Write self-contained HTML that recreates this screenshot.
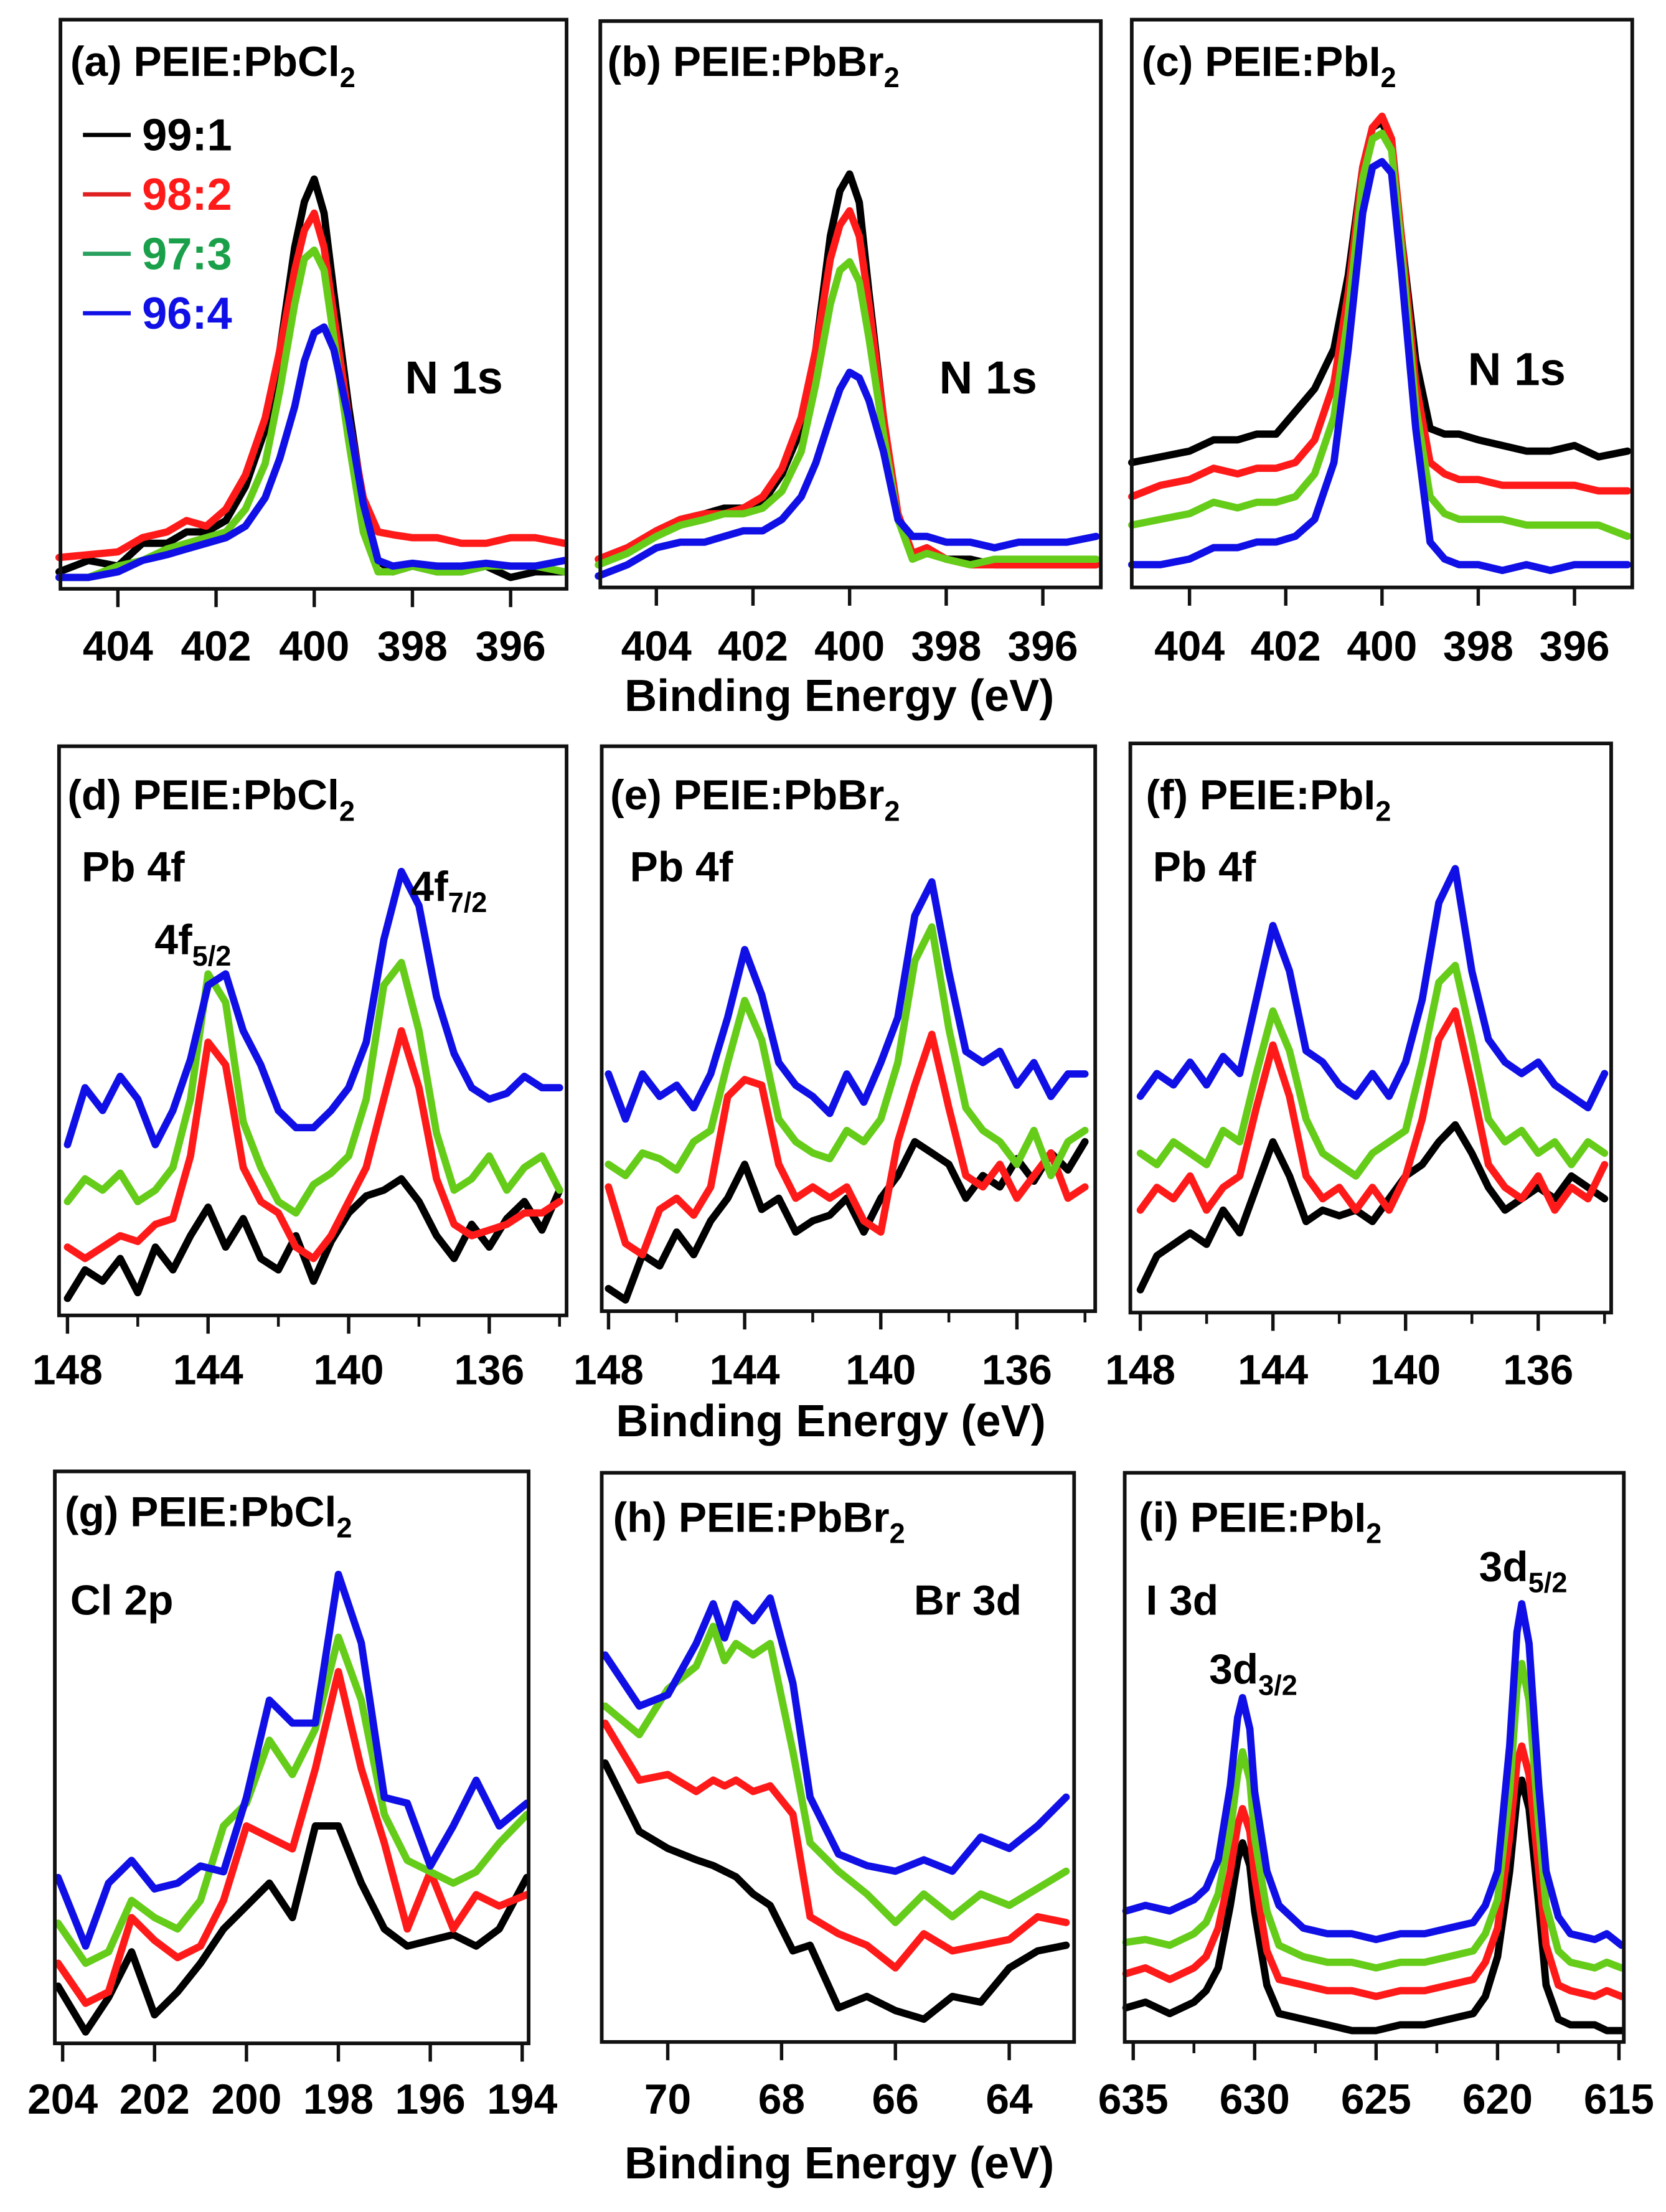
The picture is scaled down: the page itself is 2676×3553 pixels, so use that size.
<!DOCTYPE html>
<html><head><meta charset="utf-8"><title>XPS spectra of PEIE:PbX2</title>
<style>
html,body{margin:0;padding:0;background:#fff;}
svg{display:block;}
text{font-family:"Liberation Sans",Arial,sans-serif;font-weight:bold;fill:#000;}
</style></head>
<body>
<svg id="fig" xmlns="http://www.w3.org/2000/svg" width="2676" height="3553" viewBox="0 0 1185 1574" preserveAspectRatio="none"></svg>
<script>
// ---------- data ----------
// Row 1: N 1s
const eN = [405.2,404.6,404,403.5,403,402.6,402.2,401.8,401.4,401,400.7,400.4,400.2,400,399.8,399.6,399.3,399,398.7,398.4,398,397.5,397,396.5,396,395.5,394.9];
const aBlack = [0.03,0.05,0.04,0.08,0.08,0.10,0.10,0.12,0.18,0.28,0.42,0.60,0.68,0.72,0.66,0.52,0.32,0.15,0.05,0.03,0.04,0.03,0.03,0.04,0.02,0.03,0.03];
const aRed   = [0.055,0.06,0.065,0.09,0.10,0.12,0.11,0.14,0.20,0.30,0.42,0.56,0.63,0.66,0.60,0.48,0.30,0.16,0.10,0.095,0.09,0.09,0.08,0.08,0.09,0.09,0.08];
const aGreen = [0.02,0.02,0.04,0.05,0.07,0.08,0.09,0.10,0.14,0.22,0.35,0.50,0.58,0.595,0.56,0.44,0.26,0.10,0.03,0.03,0.04,0.03,0.03,0.04,0.04,0.04,0.03];
const aBlue  = [0.02,0.02,0.03,0.05,0.06,0.07,0.08,0.09,0.11,0.16,0.23,0.32,0.40,0.45,0.46,0.42,0.30,0.15,0.05,0.04,0.045,0.04,0.04,0.045,0.04,0.04,0.05];
const bBlack = [0.05,0.07,0.10,0.12,0.13,0.14,0.14,0.15,0.20,0.28,0.42,0.62,0.70,0.73,0.68,0.52,0.30,0.12,0.06,0.07,0.05,0.05,0.04,0.04,0.04,0.04,0.04];
const bRed   = [0.05,0.07,0.10,0.12,0.13,0.13,0.14,0.16,0.21,0.30,0.42,0.58,0.64,0.665,0.62,0.50,0.30,0.13,0.06,0.07,0.05,0.04,0.04,0.04,0.04,0.04,0.04];
const bGreen = [0.04,0.06,0.09,0.11,0.12,0.13,0.13,0.14,0.17,0.24,0.36,0.50,0.56,0.575,0.54,0.44,0.27,0.12,0.05,0.06,0.05,0.04,0.05,0.05,0.05,0.05,0.05];
const bBlue  = [0.02,0.04,0.07,0.08,0.08,0.09,0.10,0.10,0.12,0.16,0.22,0.30,0.35,0.38,0.37,0.33,0.24,0.12,0.09,0.09,0.08,0.08,0.07,0.08,0.08,0.08,0.09];
const cBlack = [0.22,0.23,0.24,0.26,0.26,0.27,0.27,0.31,0.35,0.42,0.55,0.74,0.81,0.82,0.78,0.62,0.40,0.28,0.27,0.27,0.26,0.25,0.24,0.24,0.25,0.23,0.24];
const cRed   = [0.16,0.18,0.19,0.21,0.20,0.21,0.21,0.22,0.26,0.36,0.52,0.74,0.81,0.83,0.79,0.62,0.36,0.22,0.20,0.19,0.19,0.18,0.18,0.18,0.18,0.17,0.17];
const cGreen = [0.11,0.12,0.13,0.15,0.14,0.15,0.15,0.16,0.20,0.30,0.48,0.72,0.79,0.80,0.77,0.60,0.32,0.16,0.13,0.12,0.12,0.12,0.11,0.11,0.11,0.11,0.09];
const cBlue  = [0.04,0.04,0.05,0.07,0.07,0.08,0.08,0.09,0.12,0.22,0.42,0.66,0.74,0.75,0.73,0.56,0.28,0.08,0.05,0.04,0.04,0.03,0.04,0.03,0.04,0.04,0.04];
// Row 2: Pb 4f
const ePb = [148,147.5,147,146.5,146,145.5,145,144.5,144,143.5,143,142.5,142,141.5,141,140.5,140,139.5,139,138.5,138,137.5,137,136.5,136,135.5,135,134.5,134];
const dBlue  = [0.30,0.40,0.36,0.42,0.38,0.30,0.36,0.45,0.58,0.60,0.50,0.44,0.36,0.33,0.33,0.36,0.40,0.48,0.66,0.78,0.72,0.56,0.46,0.40,0.38,0.39,0.42,0.40,0.40];
const dGreen = [0.20,0.24,0.22,0.25,0.20,0.22,0.26,0.38,0.60,0.55,0.34,0.26,0.20,0.18,0.23,0.25,0.28,0.38,0.58,0.62,0.50,0.32,0.22,0.24,0.28,0.22,0.26,0.28,0.22];
const dRed   = [0.12,0.10,0.12,0.14,0.13,0.16,0.17,0.28,0.48,0.44,0.26,0.20,0.18,0.12,0.10,0.14,0.20,0.26,0.38,0.50,0.40,0.24,0.16,0.14,0.15,0.16,0.18,0.18,0.20];
const dBlack = [0.03,0.08,0.06,0.10,0.04,0.12,0.08,0.14,0.19,0.12,0.17,0.10,0.08,0.14,0.06,0.13,0.18,0.21,0.22,0.24,0.20,0.14,0.10,0.16,0.12,0.17,0.20,0.15,0.22];
const eBlue  = [0.42,0.34,0.42,0.38,0.40,0.36,0.42,0.52,0.64,0.56,0.44,0.40,0.38,0.35,0.42,0.37,0.44,0.52,0.70,0.76,0.60,0.46,0.44,0.46,0.40,0.44,0.38,0.42,0.42];
const eGreen = [0.26,0.24,0.28,0.27,0.25,0.30,0.32,0.44,0.55,0.48,0.34,0.30,0.28,0.27,0.32,0.30,0.34,0.44,0.62,0.68,0.50,0.36,0.32,0.30,0.26,0.32,0.24,0.30,0.32];
const eRed   = [0.22,0.12,0.10,0.18,0.20,0.17,0.22,0.38,0.41,0.40,0.26,0.20,0.22,0.20,0.22,0.16,0.14,0.30,0.40,0.49,0.36,0.24,0.22,0.26,0.20,0.24,0.28,0.20,0.22];
const eBlack = [0.04,0.02,0.10,0.08,0.14,0.10,0.16,0.20,0.26,0.18,0.20,0.14,0.16,0.17,0.20,0.14,0.20,0.24,0.30,0.28,0.26,0.20,0.24,0.22,0.27,0.23,0.28,0.25,0.30];
const fBlue  = [0.38,0.42,0.40,0.44,0.40,0.45,0.42,0.55,0.68,0.60,0.46,0.44,0.40,0.38,0.42,0.38,0.44,0.55,0.72,0.78,0.60,0.48,0.44,0.42,0.44,0.40,0.38,0.36,0.42];
const fGreen = [0.28,0.26,0.30,0.28,0.26,0.32,0.30,0.42,0.53,0.46,0.34,0.28,0.26,0.24,0.28,0.30,0.32,0.44,0.58,0.61,0.48,0.34,0.30,0.32,0.28,0.30,0.26,0.30,0.28];
const fRed   = [0.18,0.22,0.20,0.24,0.18,0.22,0.24,0.36,0.47,0.38,0.24,0.20,0.22,0.18,0.22,0.18,0.24,0.34,0.48,0.53,0.40,0.26,0.22,0.20,0.24,0.18,0.22,0.20,0.26];
const fBlack = [0.04,0.10,0.12,0.14,0.12,0.18,0.14,0.22,0.30,0.24,0.16,0.18,0.17,0.18,0.16,0.20,0.24,0.26,0.30,0.33,0.28,0.22,0.18,0.20,0.22,0.20,0.24,0.22,0.20];
// Row 3
const eCl = [204.1,203.5,203,202.5,202,201.5,201,200.5,200,199.5,199,198.5,198,197.5,197,196.5,196,195.5,195,194.5,193.9];
const gBlue  = [0.29,0.17,0.28,0.32,0.27,0.28,0.31,0.30,0.43,0.60,0.56,0.56,0.82,0.70,0.43,0.42,0.31,0.38,0.46,0.38,0.42];
const gGreen = [0.21,0.14,0.16,0.25,0.22,0.20,0.25,0.38,0.42,0.53,0.47,0.55,0.71,0.60,0.40,0.32,0.30,0.28,0.30,0.35,0.40];
const gRed   = [0.14,0.07,0.09,0.22,0.18,0.15,0.17,0.25,0.38,0.36,0.34,0.48,0.65,0.48,0.35,0.20,0.30,0.20,0.26,0.24,0.26];
const gBlack = [0.10,0.02,0.08,0.16,0.05,0.09,0.14,0.20,0.24,0.28,0.22,0.38,0.38,0.28,0.20,0.17,0.18,0.19,0.17,0.20,0.29];
const eBr = [71.1,70.5,70,69.5,69.2,69,68.8,68.5,68.2,67.8,67.5,67,66.5,66,65.5,65,64.5,64,63.5,63];
const hBlue  = [0.68,0.59,0.61,0.70,0.77,0.71,0.77,0.74,0.78,0.63,0.43,0.33,0.31,0.30,0.32,0.30,0.36,0.34,0.38,0.43];
const hGreen = [0.59,0.54,0.62,0.66,0.73,0.67,0.70,0.68,0.70,0.51,0.35,0.30,0.26,0.21,0.26,0.22,0.26,0.24,0.27,0.30];
const hRed   = [0.56,0.46,0.47,0.44,0.46,0.45,0.46,0.44,0.45,0.40,0.22,0.19,0.17,0.13,0.19,0.16,0.17,0.18,0.22,0.21];
const hBlack = [0.49,0.37,0.34,0.32,0.31,0.30,0.29,0.26,0.24,0.16,0.17,0.06,0.08,0.055,0.04,0.08,0.07,0.13,0.16,0.17];
const eI = [635.3,634.5,633.5,632.5,632,631.5,631,630.7,630.5,630.2,630,629.5,629,628,627,626,625,624,623,622,621,620.5,620,619.5,619.2,619,618.7,618.3,618,617.5,617,616,615.5,614.9];
const iBlue  = [0.23,0.24,0.23,0.25,0.27,0.32,0.45,0.57,0.605,0.55,0.44,0.30,0.24,0.20,0.19,0.19,0.18,0.19,0.19,0.20,0.21,0.24,0.30,0.52,0.72,0.77,0.70,0.45,0.30,0.22,0.19,0.18,0.19,0.17];
const iGreen = [0.175,0.18,0.17,0.19,0.21,0.26,0.37,0.47,0.51,0.46,0.36,0.23,0.17,0.15,0.14,0.14,0.13,0.14,0.14,0.15,0.16,0.19,0.25,0.44,0.62,0.665,0.60,0.38,0.24,0.16,0.14,0.13,0.14,0.13];
const iRed   = [0.12,0.13,0.11,0.13,0.15,0.20,0.30,0.38,0.41,0.37,0.29,0.16,0.11,0.10,0.09,0.09,0.08,0.09,0.09,0.10,0.11,0.14,0.20,0.36,0.49,0.52,0.47,0.30,0.17,0.10,0.09,0.08,0.09,0.08];
const iBlack = [0.06,0.07,0.05,0.07,0.09,0.13,0.24,0.32,0.35,0.31,0.23,0.10,0.05,0.04,0.03,0.02,0.02,0.03,0.03,0.04,0.05,0.08,0.15,0.30,0.43,0.46,0.41,0.24,0.10,0.04,0.03,0.03,0.02,0.02];
const tickN = [404,402,400,398,396];
const tickPb = [148,144,140,136];
const tickCl = [204,202,200,198,196,194];
const tickBr = [70,68,66,64];
const tickI = [635,630,625,620,615];
const legendLabels = ["99:1","98:2","97:3","96:4"];

// ---------- drawing ----------
const NS = "http://www.w3.org/2000/svg";
const svg = document.getElementById("fig");
const COL = {black:"#000000", red:"#ff1a1a", green:"#66cc1a", blue:"#1010e6"};
function mk(tag, attrs, parent){
  const el = document.createElementNS(NS, tag);
  for (const k in attrs) el.setAttribute(k, attrs[k]);
  (parent||svg).appendChild(el);
  return el;
}
const panels = [
 {id:"a",x0:43,x1:403,y0:14,y1:419,e0:405.17,e1:394.86,energies:eN,series:[["black",aBlack],["red",aRed],["green",aGreen],["blue",aBlue]],ticks:tickN,minor:[],tickY:470},
 {id:"b",x0:427,x1:783,y0:15,y1:418,e0:405.16,e1:394.8,energies:eN,series:[["black",bBlack],["red",bRed],["green",bGreen],["blue",bBlue]],ticks:tickN,minor:[],tickY:470},
 {id:"c",x0:805,x1:1161,y0:14,y1:418,e0:405.2,e1:394.8,energies:eN,series:[["black",cBlack],["red",cRed],["green",cGreen],["blue",cBlue]],ticks:tickN,minor:[],tickY:470},
 {id:"d",x0:42,x1:403,y0:531,y1:936,e0:148.24,e1:133.8,energies:ePb,series:[["black",dBlack],["red",dRed],["green",dGreen],["blue",dBlue]],ticks:tickPb,minor:[146,142,138,134],tickY:985},
 {id:"e",x0:428,x1:779,y0:531,y1:933,e0:148.2,e1:133.7,energies:ePb,series:[["black",eBlack],["red",eRed],["green",eGreen],["blue",eBlue]],ticks:tickPb,minor:[146,142,138,134],tickY:985},
 {id:"f",x0:804,x1:1146,y0:529,y1:934,e0:148.3,e1:133.8,energies:ePb,series:[["black",fBlack],["red",fRed],["green",fGreen],["blue",fBlue]],ticks:tickPb,minor:[146,142,138,134],tickY:985},
 {id:"g",x0:39,x1:376,y0:1047,y1:1454,e0:204.17,e1:193.86,energies:eCl,series:[["black",gBlack],["red",gRed],["green",gGreen],["blue",gBlue]],ticks:tickCl,minor:[],tickY:1504},
 {id:"h",x0:428,x1:764,y0:1048,y1:1453,e0:71.16,e1:62.86,energies:eBr,series:[["black",hBlack],["red",hRed],["green",hGreen],["blue",hBlue]],ticks:tickBr,minor:[],tickY:1504},
 {id:"i",x0:800,x1:1155,y0:1048,y1:1453,e0:635.35,e1:614.8,energies:eI,series:[["black",iBlack],["red",iRed],["green",iGreen],["blue",iBlue]],ticks:tickI,minor:[632.5,627.5,622.5,617.5],tickY:1504}
];
panels.forEach(p=>{
  const g = mk("g",{});
  
  
  const xs = e => p.x0 + (p.e0 - e)/(p.e0 - p.e1)*(p.x1 - p.x0);
  const ys = v => p.y1 - v*(p.y1 - p.y0);
  p.series.forEach(([c, vals])=>{
    const pts = vals.map((v,i)=>xs(p.energies[i]).toFixed(1)+","+ys(v).toFixed(1)).join(" ");
    const pl = mk("polyline",{points:pts,fill:"none",stroke:COL[c],"stroke-width":5.2,"stroke-linejoin":"round","stroke-linecap":"round"},g);
    
    
  });
  const fr = mk("rect",{x:p.x0,y:p.y0,width:p.x1-p.x0,height:p.y1-p.y0,fill:"none",stroke:"#111","stroke-width":2.6},g);
  
  
  p.ticks.forEach(t=>{
    const x = xs(t);
    const tk = mk("line",{x1:x,x2:x,y1:p.y1,y2:p.y1+13,stroke:"#111","stroke-width":2.4},g);
    
    
    const tl = mk("text",{x:x,y:p.tickY,"text-anchor":"middle","font-size":30},g);
    tl.textContent = t;
    
    
  });
  p.minor.forEach(t=>{
    const x = xs(t);
    const tk = mk("line",{x1:x,x2:x,y1:p.y1,y2:p.y1+8,stroke:"#111","stroke-width":2},g);
    
    
  });
});
// legend in panel (a)
const legTxt = ["#000","#ff1a1a","#1aa04a","#1010e6"];
const legLine = ["#000","#e02020","#2aa060","#1010e6"];
legendLabels.forEach((lab,i)=>{
  const y = 107 + i*42.3;
  const ln = mk("line",{x1:59,x2:93,y1:y-11,y2:y-11,stroke:legLine[i],"stroke-width":3});
  
  
  const t = mk("text",{x:101,y:y,"font-size":32});
  t.style.fill = legTxt[i];
  t.textContent = lab;
  
  
});
</script>
<svg style="position:absolute;left:0;top:0" width="2676" height="3553" viewBox="0 0 1185 1574" preserveAspectRatio="none" xmlns="http://www.w3.org/2000/svg">
 <g font-family="Liberation Sans, Arial, sans-serif" font-weight="bold" fill="#000" font-size="30">
  <text x="50" y="54">(a) PEIE:PbCl<tspan font-size="20" dy="8">2</tspan></text>
  <text x="432" y="54">(b) PEIE:PbBr<tspan font-size="20" dy="8">2</tspan></text>
  <text x="812" y="54">(c) PEIE:PbI<tspan font-size="20" dy="8">2</tspan></text>
  <text x="288" y="280" font-size="33">N 1s</text>
  <text x="668" y="280" font-size="33">N 1s</text>
  <text x="1044" y="274" font-size="33">N 1s</text>
  <text x="597" y="506" text-anchor="middle" font-size="32">Binding Energy (eV)</text>

  <text x="48" y="576">(d) PEIE:PbCl<tspan font-size="20" dy="8">2</tspan></text>
  <text x="434" y="576">(e) PEIE:PbBr<tspan font-size="20" dy="8">2</tspan></text>
  <text x="815" y="576">(f) PEIE:PbI<tspan font-size="20" dy="8">2</tspan></text>
  <text x="58" y="627">Pb 4f</text>
  <text x="448" y="627">Pb 4f</text>
  <text x="820" y="627">Pb 4f</text>
  <text x="110" y="679">4f<tspan font-size="20" dy="8">5/2</tspan></text>
  <text x="292" y="641">4f<tspan font-size="20" dy="8">7/2</tspan></text>
  <text x="591" y="1022" text-anchor="middle" font-size="32">Binding Energy (eV)</text>

  <text x="46" y="1086">(g) PEIE:PbCl<tspan font-size="20" dy="8">2</tspan></text>
  <text x="436" y="1090">(h) PEIE:PbBr<tspan font-size="20" dy="8">2</tspan></text>
  <text x="810" y="1090">(i) PEIE:PbI<tspan font-size="20" dy="8">2</tspan></text>
  <text x="50" y="1149">Cl 2p</text>
  <text x="650" y="1149">Br 3d</text>
  <text x="815" y="1149">I 3d</text>
  <text x="860" y="1198">3d<tspan font-size="20" dy="8">3/2</tspan></text>
  <text x="1052" y="1125">3d<tspan font-size="20" dy="8">5/2</tspan></text>
  <text x="597" y="1550" text-anchor="middle" font-size="32">Binding Energy (eV)</text>
 </g>
</svg>
</body></html>
